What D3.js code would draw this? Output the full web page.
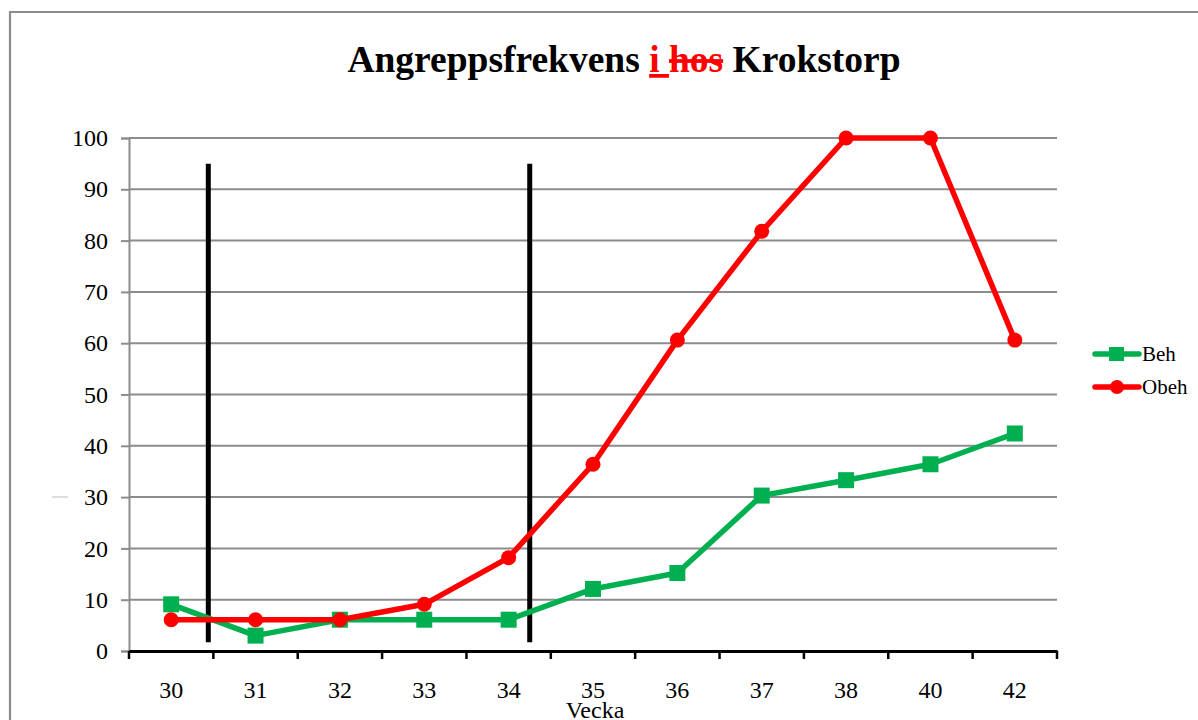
<!DOCTYPE html>
<html><head><meta charset="utf-8">
<script src="https://cdn.jsdelivr.net/npm/d3@7"></script>
<style>body{margin:0;background:#fff}svg{display:block}</style>
</head><body>
<svg id="c" width="1198" height="720"></svg>
<script>
const weeks = ["30","31","32","33","34","35","36","37","38","40","42"];
const beh  = [9.1, 3.0, 6.1, 6.1, 6.1, 12.1, 15.2, 30.3, 33.3, 36.4, 42.4];
const obeh = [6.1, 6.1, 6.1, 9.1, 18.2, 36.4, 60.6, 81.8, 100, 100, 60.6];
const yTicks = [0,10,20,30,40,50,60,70,80,90,100];
// vertical marker lines, in category-index units (0 = first week centre)
const markerPos = [0.44, 4.25];
const markerRange = [1.7, 95];
const seriesNames = ["Beh","Obeh"];
const seriesColors = ["#00b050","#ff0000"];

const svg = d3.select("#c");
const L = 129, R = 1057, T = 138, B = 651;
const x = d3.scaleBand().domain(weeks).range([L,R]).padding(0);
const xi = d3.scaleLinear().domain([0,1]).range([x(weeks[0])+x.bandwidth()/2, x(weeks[1])+x.bandwidth()/2]);
const y = d3.scaleLinear().domain([0,100]).range([B,T]);
const serif = "'Liberation Serif','Times New Roman',serif";

// outer border
svg.append("path").attr("d","M10,720 L10,12 L1198,12").attr("fill","none").attr("stroke","#8c8c8c").attr("stroke-width",2.2);

// gridlines
svg.append("g").selectAll("line").data(yTicks.filter(d=>d>0)).join("line")
  .attr("x1",L).attr("x2",R).attr("y1",d=>y(d)).attr("y2",d=>y(d))
  .attr("stroke","#8c8c8c").attr("stroke-width",2);

// y axis
const ya = svg.append("g").attr("transform",`translate(${L},0)`)
  .call(d3.axisLeft(y).tickValues(yTicks).tickSize(8).tickPadding(13));
ya.attr("font-size",null).attr("font-family",null);
ya.select(".domain").attr("stroke","#8c8c8c").attr("stroke-width",2);
ya.selectAll(".tick line").attr("stroke","#8c8c8c").attr("stroke-width",2);
ya.selectAll("text").attr("font-family",serif).attr("font-size",24).attr("fill","#000");

// x axis
const xa = svg.append("g").attr("transform",`translate(0,${B})`)
  .call(d3.axisBottom(x).tickSize(0).tickPadding(30));
xa.attr("font-size",null).attr("font-family",null);
xa.select(".domain").attr("stroke","#000").attr("stroke-width",3);
xa.selectAll("text").attr("font-family",serif).attr("font-size",24).attr("fill","#000");
const bounds = weeks.map(w=>x(w)).concat([R]);
svg.append("g").selectAll("line").data(bounds).join("line")
  .attr("x1",d=>d).attr("x2",d=>d).attr("y1",B).attr("y2",B+8)
  .attr("stroke","#000").attr("stroke-width",2.5);

svg.append("text").attr("x",595).attr("y",718).attr("text-anchor","middle")
  .attr("font-family",serif).attr("font-size",24).text("Vecka");

// faint collapsed axis title mark
svg.append("line").attr("x1",52).attr("x2",68).attr("y1",497).attr("y2",497).attr("stroke","#bbb").attr("stroke-width",1);

// marker vertical lines
svg.append("g").selectAll("line").data(markerPos).join("line")
  .attr("x1",d=>xi(d)).attr("x2",d=>xi(d)).attr("y1",y(markerRange[0])).attr("y2",y(markerRange[1]))
  .attr("stroke","#000").attr("stroke-width",5);

const cx = (d,i)=>x(weeks[i])+x.bandwidth()/2;
const line = d3.line().x(cx).y(d=>y(d));

// Beh
svg.append("path").datum(beh).attr("d",line).attr("fill","none").attr("stroke",seriesColors[0]).attr("stroke-width",5.5).attr("stroke-linejoin","round");
svg.append("g").selectAll("rect").data(beh).join("rect")
  .attr("x",(d,i)=>cx(d,i)-8).attr("y",d=>y(d)-8).attr("width",16).attr("height",16).attr("fill",seriesColors[0]);
// Obeh
svg.append("path").datum(obeh).attr("d",line).attr("fill","none").attr("stroke",seriesColors[1]).attr("stroke-width",5.5).attr("stroke-linejoin","round");
svg.append("g").selectAll("circle").data(obeh).join("circle")
  .attr("cx",cx).attr("cy",d=>y(d)).attr("r",7.5).attr("fill",seriesColors[1]);

// title
const t = svg.append("text").attr("x",624).attr("y",72).attr("text-anchor","middle")
  .attr("font-family",serif).attr("font-size",37.5).attr("font-weight","bold");
t.append("tspan").text("Angreppsfrekvens ");
t.append("tspan").attr("fill","#ff0000").attr("text-decoration","underline").text("i ");
t.append("tspan").attr("fill","#ff0000").attr("text-decoration","line-through").text("hos");
t.append("tspan").text(" Krokstorp");

// legend
const lg = svg.append("g").selectAll("g").data(seriesNames).join("g")
  .attr("transform",(d,i)=>`translate(1095,${354+i*33})`);
lg.append("line").attr("x1",0).attr("x2",44).attr("stroke",(d,i)=>seriesColors[i]).attr("stroke-width",5.5).attr("stroke-linecap","round");
lg.filter((d,i)=>i===0).append("rect").attr("x",14).attr("y",-7).attr("width",15).attr("height",14).attr("fill",seriesColors[0]);
lg.filter((d,i)=>i===1).append("circle").attr("cx",22).attr("cy",0).attr("r",7).attr("fill",seriesColors[1]);
lg.append("text").attr("x",47).attr("y",7).attr("font-family",serif).attr("font-size",21).text(d=>d);
</script>
</body></html>
